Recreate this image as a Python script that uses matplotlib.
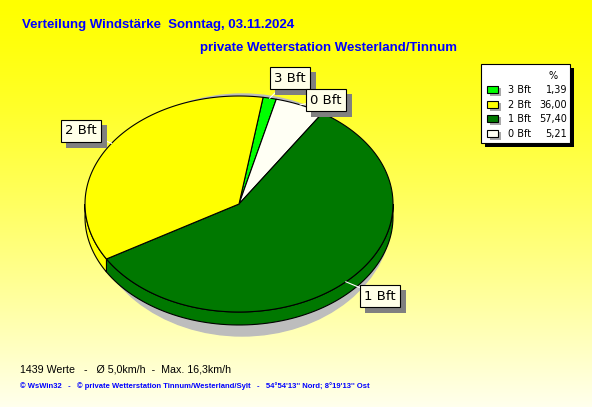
import matplotlib
matplotlib.use("Agg")
import matplotlib.pyplot as plt
import matplotlib.patheffects as pe
import numpy as np
from matplotlib.patches import Polygon, Ellipse, Rectangle

# data
labels = ["3 Bft", "0 Bft", "1 Bft", "2 Bft"]          # clockwise order in the pie
values = [1.39, 5.21, 57.40, 36.00]
colors = ["#00FF00", "#FFFFF4", "#007800", "#FFFF00"]
legend_order = [0, 3, 2, 1]                             # 3, 2, 1, 0 Bft
title = "Verteilung Windstärke  Sonntag, 03.11.2024"
subtitle = "private Wetterstation Westerland/Tinnum"
info = "1439 Werte   -   Ø 5,0km/h  -  Max. 16,3km/h"
footer = "© WsWin32   -   © private Wetterstation Tinnum/Westerland/Sylt   -   54°54'13'' Nord; 8°19'13'' Ost"

W, H = 592, 407
fig = plt.figure(figsize=(W / 100, H / 100), dpi=100)
ax = fig.add_axes([0, 0, 1, 1])
ax.set_xlim(0, W)
ax.set_ylim(H, 0)
ax.axis("off")

# background gradient
grad = np.zeros((H, 1, 3))
t = np.linspace(0, 1, H)
grad[:, 0, 0] = 1.0
grad[:, 0, 1] = 1.0
grad[:, 0, 2] = (t ** 1.3) * 0.93
ax.imshow(grad, extent=[0, W, H, 0], aspect="auto", zorder=0)

# pie geometry (pixel layout)
cx, cy, a, b, depth = 239, 204, 154, 108, 13
start = 81.0

def pt(tdeg, dy=0):
    r = np.radians(tdeg)
    return cx + a * np.cos(r), cy - b * np.sin(r) + dy

# shadow
ax.add_patch(Ellipse((cx + 3, cy + 11), 2 * a - 8, 2 * b + 26, color="#BDBDBD", zorder=1))

total = sum(values)
angles = []
cur = start
for v in values:
    span = v / total * 360.0
    angles.append((cur - span, cur))
    cur -= span

# sides (front half only)
for (t1, t2), c in zip(angles, colors):
    for lo, hi in [(180, 360), (-180, 0), (540, 720), (-540, -360)]:
        s, e = max(t1, lo), min(t2, hi)
        if e <= s:
            continue
        ts = np.linspace(s, e, 80)
        top = [pt(x) for x in ts]
        bot = [pt(x, depth) for x in ts[::-1]]
        ax.add_patch(Polygon(top + bot, closed=True, facecolor=c, edgecolor="black", lw=0.8, zorder=2))

# top faces
for (t1, t2), c in zip(angles, colors):
    ts = np.linspace(t1, t2, 200)
    verts = [(cx, cy)] + [pt(x) for x in ts]
    ax.add_patch(Polygon(verts, closed=True, facecolor=c, edgecolor="black", lw=0.8, zorder=3))

# labels with leader lines
label_pos = {"3 Bft": (290, 78), "0 Bft": (326, 100), "2 Bft": (81, 131), "1 Bft": (380, 296)}
for (t1, t2), lab in zip(angles, labels):
    lx, ly = label_pos[lab]
    ex, ey = pt((t1 + t2) / 2)
    ax.plot([lx, ex], [ly, ey], color="white", lw=0.8, zorder=4)
    txt = ax.text(lx, ly, lab, fontsize=9.5, family="DejaVu Sans", ha="center", va="center", zorder=6,
                  bbox=dict(boxstyle="square,pad=0.35", facecolor="#FFFFE8", edgecolor="black", lw=0.8))
    txt.get_bbox_patch().set_path_effects([
        pe.SimplePatchShadow(offset=(4, -4), shadow_rgbFace="#808080", alpha=1.0), pe.Normal()])

# legend
lx0, ly0, lw_, lh_ = 481, 64, 89, 79
ax.add_patch(Rectangle((lx0 + 4, ly0 + 4), lw_, lh_, facecolor="black", zorder=6))
ax.add_patch(Rectangle((lx0, ly0), lw_, lh_, facecolor="white", edgecolor="black", lw=0.8, zorder=7))
ax.text(553, 76, "%", fontsize=7, ha="center", va="center", zorder=8)
for k, i in enumerate(legend_order):
    y = 90 + k * 14.7
    ax.add_patch(Rectangle((490, y - 2), 11, 8, facecolor="#A8A8A8", zorder=8))
    ax.add_patch(Rectangle((487, y - 4), 11, 7, facecolor=colors[i], edgecolor="black", lw=0.8, zorder=9))
    ax.text(508, y, labels[i], fontsize=7, ha="left", va="center", zorder=8)
    ax.text(567, y, f"{values[i]:.2f}".replace(".", ","), fontsize=7, ha="right", va="center", zorder=8)

# titles and footer
ax.text(22, 25, title, fontsize=9.5, fontweight="bold", family="Liberation Sans", color="#0000FF", va="center")
ax.text(200, 48, subtitle, fontsize=9.5, fontweight="bold", family="Liberation Sans", color="#0000FF", va="center")
ax.text(20, 369, info, fontsize=7.7, family="Liberation Sans", color="black", va="center")
ax.text(20, 386, footer, fontsize=5.5, fontweight="bold", family="Liberation Sans", color="#0000FF", va="center")

fig.savefig("out.png", dpi=100)
